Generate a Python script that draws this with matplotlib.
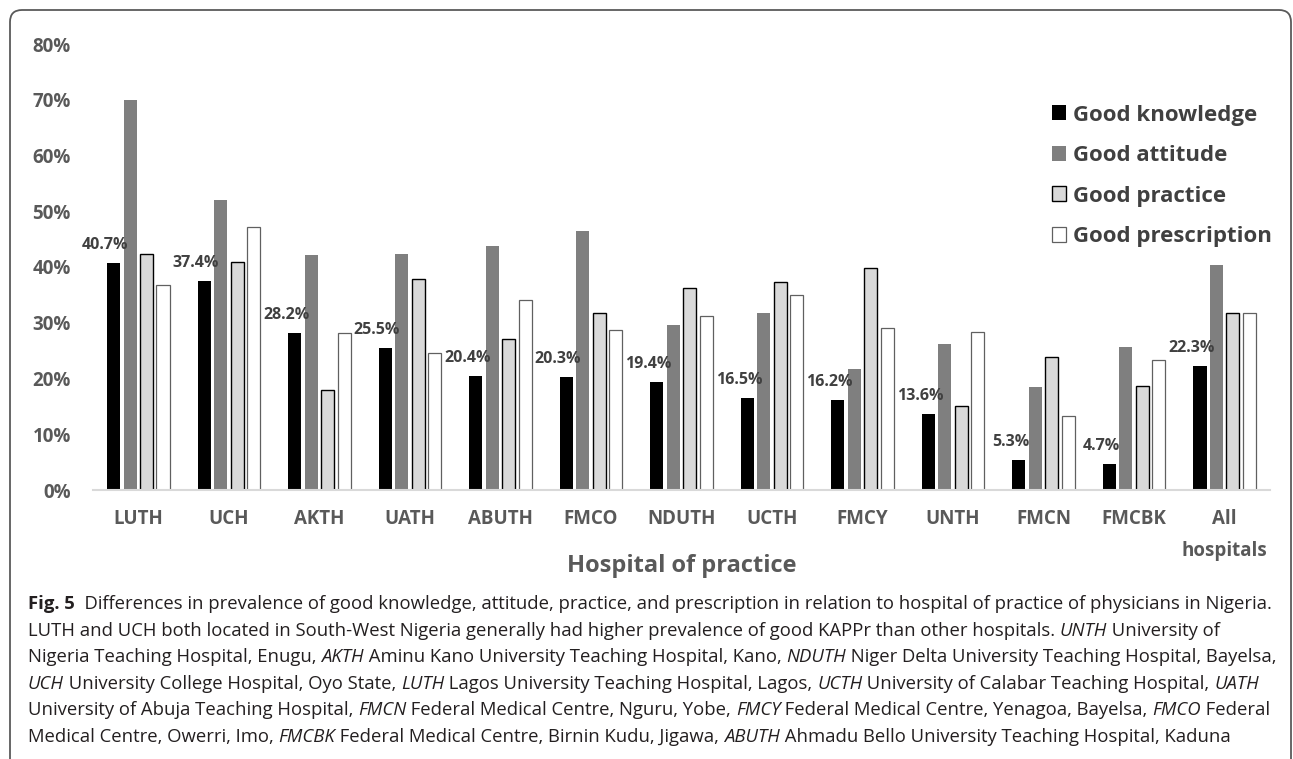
# bar chart of good KAPPr by hospital, with caption underneath
import numpy as np
import matplotlib.pyplot as plt
from matplotlib.patches import FancyBboxPatch
from matplotlib.transforms import IdentityTransform

plt.rcParams["font.family"] = ["Open Sans", "DejaVu Sans"]

# data (percent)
hospitals = ["LUTH", "UCH", "AKTH", "UATH", "ABUTH", "FMCO", "NDUTH",
             "UCTH", "FMCY", "UNTH", "FMCN", "FMCBK", "All\nhospitals"]
knowledge = [40.7, 37.4, 28.2, 25.5, 20.4, 20.3, 19.4, 16.5, 16.2, 13.6, 5.3, 4.7, 22.3]
attitude = [70.0, 52.1, 42.1, 42.4, 43.8, 46.4, 29.6, 31.7, 21.7, 26.2, 18.4, 25.6, 40.3]
practice = [42.4, 40.9, 17.9, 37.9, 27.0, 31.7, 36.2, 37.3, 39.9, 15.1, 23.8, 18.6, 31.7]
prescription = [36.7, 47.1, 28.1, 24.5, 34.1, 28.7, 31.3, 34.9, 29.0, 28.4, 13.2, 23.4, 31.8]
series_names = ["Good knowledge", "Good attitude", "Good practice", "Good prescription"]
y_ticks = [0, 10, 20, 30, 40, 50, 60, 70, 80]

W, H = 1293, 759
fig = plt.figure(figsize=(W / 100, H / 100), dpi=100)
ax = fig.add_axes([93 / W, 1 - 490 / H, (1270 - 93) / W, (490 - 44) / H])

x = np.arange(len(hospitals))
step = 0.182
width = 0.144
styles = [
    dict(color="black"),
    dict(color="#7f7f7f"),
    dict(facecolor="#d9d9d9", edgecolor="black", linewidth=1.0),
    dict(facecolor="white", edgecolor="#606060", linewidth=0.9),
]
for i, (vals, name, st) in enumerate(zip([knowledge, attitude, practice, prescription],
                                         series_names, styles)):
    ax.bar(x + (i - 1.5) * step, vals, width, label=name, **st)

# labels on the knowledge bars
for xi, v in zip(x - 1.5 * step, knowledge):
    ax.annotate(f"{v}%", (xi, v), xytext=(-6, 13), textcoords="offset points",
                ha="center", va="center", fontsize=11.5, fontweight="bold",
                color="#404040")

ax.set_xlim(-0.5, len(hospitals) - 0.5)
ax.set_ylim(0, 80)
ax.set_yticks(y_ticks)
ax.set_yticklabels([f"{t}%" for t in y_ticks])
ax.set_xticks(x)
ax.set_xticklabels(hospitals, linespacing=1.75)
ax.tick_params(axis="both", length=0, labelsize=13.5, labelcolor="#595959")
ax.tick_params(axis="y", pad=16)
ax.tick_params(axis="x", pad=14)
for lab in ax.get_xticklabels() + ax.get_yticklabels():
    lab.set_fontweight("bold")
for s in ax.spines.values():
    s.set_visible(False)
ax.axhline(0, color="#d9d9d9", lw=1.5, clip_on=False)

ax.set_xlabel("Hospital of practice", fontsize=17, fontweight="bold", color="#595959")
ax.xaxis.set_label_coords(0.5, -(566 - 490) / (490 - 44))
ax.xaxis.label.set_va("center")

leg = fig.legend(loc="upper left", bbox_to_anchor=(1052 / W, 1 - 104.5 / H),
                 frameon=False, prop=dict(family="Open Sans", weight="bold", size=16),
                 handlelength=0.65, handleheight=0.65, handletextpad=0.3,
                 labelspacing=0.88, borderaxespad=0, borderpad=0)
for t in leg.get_texts():
    t.set_color("#404040")

# frame round the figure
box = FancyBboxPatch((10, -40), 1281, 749 + 40, boxstyle="round,pad=0,rounding_size=12",
                     transform=IdentityTransform(), facecolor="none",
                     edgecolor="#5a5a5a", linewidth=1.3)
fig.patches.append(box)

# caption, with bold and italic pieces
caption = [
    [("Fig. 5", "bold"), ("  Differences in prevalence of good knowledge, attitude, practice, and prescription in relation to hospital of practice of physicians in Nigeria.", "normal")],
    [("LUTH and UCH both located in South-West Nigeria generally had higher prevalence of good KAPPr than other hospitals. ", "normal"), ("UNTH", "italic"), (" University of", "normal")],
    [("Nigeria Teaching Hospital, Enugu, ", "normal"), ("AKTH", "italic"), (" Aminu Kano University Teaching Hospital, Kano, ", "normal"), ("NDUTH", "italic"), (" Niger Delta University Teaching Hospital, Bayelsa,", "normal")],
    [("UCH", "italic"), (" University College Hospital, Oyo State, ", "normal"), ("LUTH", "italic"), (" Lagos University Teaching Hospital, Lagos, ", "normal"), ("UCTH", "italic"), (" University of Calabar Teaching Hospital, ", "normal"), ("UATH", "italic")],
    [("University of Abuja Teaching Hospital, ", "normal"), ("FMCN", "italic"), (" Federal Medical Centre, Nguru, Yobe, ", "normal"), ("FMCY", "italic"), (" Federal Medical Centre, Yenagoa, Bayelsa, ", "normal"), ("FMCO", "italic"), (" Federal", "normal")],
    [("Medical Centre, Owerri, Imo, ", "normal"), ("FMCBK", "italic"), (" Federal Medical Centre, Birnin Kudu, Jigawa, ", "normal"), ("ABUTH", "italic"), (" Ahmadu Bello University Teaching Hospital, Kaduna", "normal")],
]

renderer = fig.canvas.get_renderer()


def seg_kw(style):
    kw = dict(family="Open Sans", fontsize=13.3, color="#231f20")
    if style == "bold":
        kw["fontweight"] = "bold"
    elif style == "italic":
        kw["fontstyle"] = "italic"
    return kw


def seg_width(s, kw):
    probe = fig.text(0, 0, "|" + s + "|", **kw)
    bars = fig.text(0, 0, "||", **kw)
    w = probe.get_window_extent(renderer).width - bars.get_window_extent(renderer).width
    probe.remove()
    bars.remove()
    return w


for k, line in enumerate(caption):
    xpos = 28
    ybase = 609 + k * 26.6
    for text, style in line:
        kw = seg_kw(style)
        fig.text(xpos / W, 1 - ybase / H, text, va="baseline", ha="left", **kw)
        xpos += seg_width(text, kw)

fig.savefig("out.png", dpi=100)
